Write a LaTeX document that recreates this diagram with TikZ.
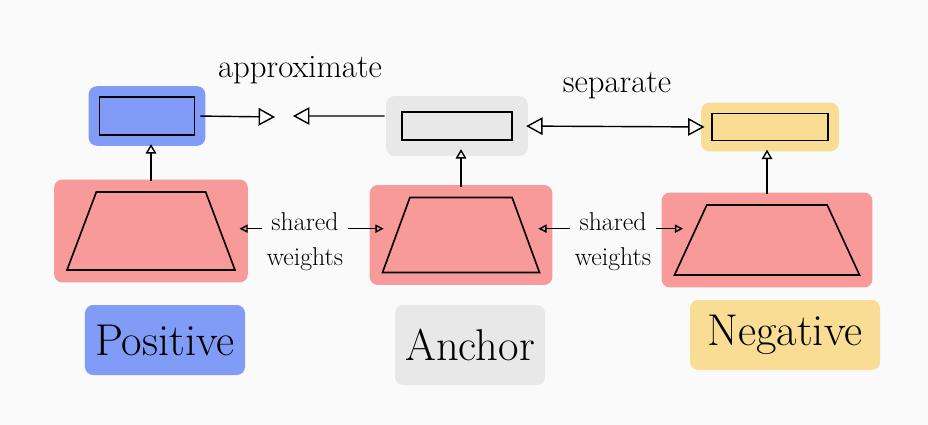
\documentclass[tikz,border=0pt]{standalone}
\usepackage{fontspec}
\usetikzlibrary{arrows.meta}
\usetikzlibrary{shapes.geometric}
\usetikzlibrary{fit}
\usetikzlibrary{backgrounds}
\definecolor{paper}{HTML}{FAFAFA}
\definecolor{hlblue}{HTML}{809CF7}
\definecolor{hlred}{HTML}{F99A9A}
\definecolor{hlgray}{HTML}{E8E8E8}
\definecolor{hlyellow}{HTML}{F9DD94}
\tikzset{
  emb/.style = {draw, line width=1.4pt, inner sep=0},
  enc/.style = {draw, line width=1.4pt, fill=hlred, trapezium, trapezium angle=75,
                trapezium stretches=true, inner sep=2pt},
  hl/.style = {rounded corners=7pt, inner sep=0.3cm},
  lbl/.style = {rounded corners=7pt, minimum height=2.1cm, font=\fontsize{38}{42}\selectfont},
  note/.style = {font=\fontsize{28}{32}\selectfont},
  sw/.style = {align=center, inner sep=1pt, font=\fontsize{22}{30}\selectfont},
  uparr/.style = {-{Triangle[open, length=8pt, width=9pt]}, line width=1.2pt,
                  shorten <=0.3cm, shorten >=0.25cm},
  bigarr/.style = {-{Triangle[open, length=14pt, width=15pt]}, line width=1.2pt},
  smallarr/.style = {-{Triangle[open, length=7pt, width=7pt]}, line width=1.2pt}
}

\begin{document}
\begin{tikzpicture}[x=0.03cm, y=-0.03cm]
      \useasboundingbox (0,0) rectangle (928,425);

      % embeddings
      \node [emb, minimum width=2.85cm, minimum height=1.14cm] (posemb) at (147,116) {};
      \node [emb, minimum width=3.3cm, minimum height=0.84cm] (ancemb) at (457,126) {};
      \node [emb, minimum width=3.48cm, minimum height=0.81cm] (negemb) at (770,127) {};

      % encoders
      \node [enc, minimum width=5.04cm, minimum height=2.34cm] (posenc) at (151,231) {};
      \node [enc, minimum width=4.71cm, minimum height=2.25cm] (ancenc) at (461,235) {};
      \node [enc, minimum width=5.55cm, minimum height=2.1cm] (negenc) at (767,240) {};

      % labels
      \node [lbl, fill=hlblue, minimum width=4.8cm] (poslbl) at (165,340) {Positive};
      \node [lbl, fill=hlgray, minimum width=4.5cm, minimum height=2.4cm] (anclbl) at (470,345) {Anchor};
      \node [lbl, fill=hlyellow, minimum width=5.7cm] (neglbl) at (785,335) {Negative};

      \node [note] (apx) at (300,70) {approximate};
      \node [note] (sep) at (617,86) {separate};
      \node [sw] (sw1) at (305,242) {shared\\weights};
      \node [sw] (sw2) at (613,242) {shared\\weights};

      \begin{scope}[on background layer]
        \fill [paper] (0,0) rectangle (928,425);
        \node [hl, fill=hlblue, fit=(posemb)] {};
        \node [hl, fill=hlgray, fit=(ancemb), inner sep=0.45cm] {};
        \node [hl, fill=hlyellow, fit=(negemb)] {};
        \node [hl, fill=hlred, inner sep=0.35cm,
               fit=(posenc.bottom left corner) (posenc.bottom right corner) (posenc.north)] {};
        \node [hl, fill=hlred, inner sep=0.35cm,
               fit=(ancenc.bottom left corner) (ancenc.bottom right corner) (ancenc.north)] {};
        \node [hl, fill=hlred, inner sep=0.35cm,
               fit=(negenc.bottom left corner) (negenc.bottom right corner) (negenc.north)] {};
      \end{scope}

      % encoder to embedding
      \draw [uparr] (posenc.north) -- (posenc.north |- posemb.south);
      \draw [uparr] (ancenc.north) -- (ancenc.north |- ancemb.south);
      \draw [uparr] (negenc.north) -- (negenc.north |- negemb.south);

      % approximate / separate
      \coordinate (apxL) at (275,117);
      \coordinate (apxR) at (293,116);
      \draw [bigarr, shorten <=0.15cm] (posemb.east) -- (apxL);
      \draw [bigarr] ([xshift=-0.5cm, yshift=0.3cm]ancemb.west) -- (apxR);
      \draw [bigarr, {Triangle[open, length=14pt, width=15pt]}-{Triangle[open, length=14pt, width=15pt]},
             shorten <=0.4cm, shorten >=0.2cm] (ancemb.east) -- (negemb.west);

      % shared weights
      \path ([yshift=0.4cm]sw1.west) coordinate (sw1l) ([yshift=0.4cm]sw1.east) coordinate (sw1r);
      \path ([yshift=0.4cm]sw2.west) coordinate (sw2l) ([yshift=0.4cm]sw2.east) coordinate (sw2r);
      \draw [smallarr, shorten <=0.1cm, shorten >=0.55cm] (sw1l) -- (sw1l -| posenc.east);
      \draw [smallarr, shorten <=0.1cm, shorten >=0.35cm] (sw1r) -- (sw1r -| ancenc.west);
      \draw [smallarr, shorten <=0.1cm, shorten >=0.35cm] (sw2l) -- (sw2l -| ancenc.east);
      \draw [smallarr, shorten <=0.1cm, shorten >=0.2cm] (sw2r) -- (sw2r -| negenc.west);
    \end{tikzpicture}
\end{document}
